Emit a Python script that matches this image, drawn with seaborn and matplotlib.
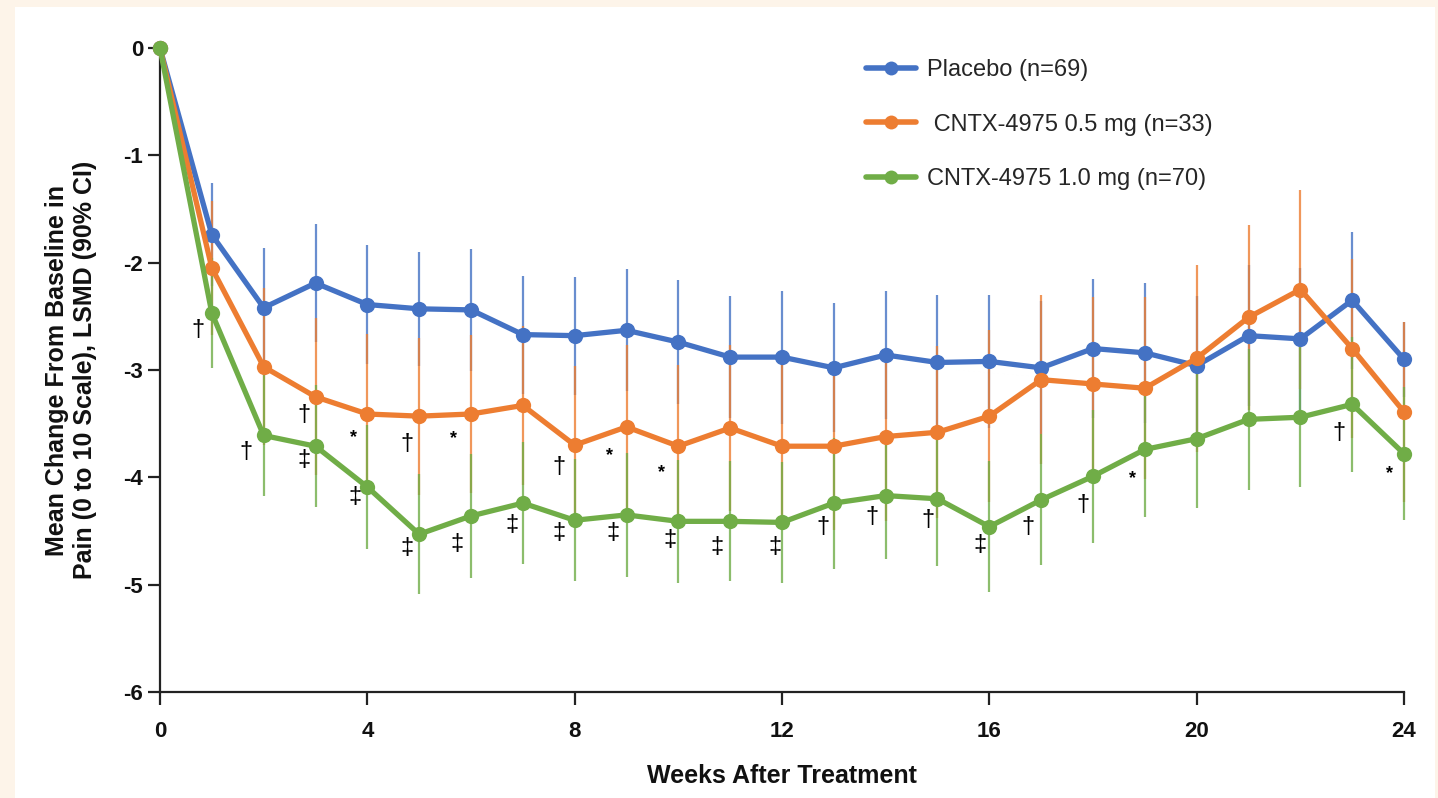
import numpy as np
import pandas as pd
import matplotlib
matplotlib.use("Agg")
import matplotlib.pyplot as plt
import matplotlib.transforms as mtransforms
from matplotlib.lines import Line2D
from matplotlib.patches import Rectangle
import seaborn as sns

# ---- data -------------------------------------------------------------
weeks = list(range(0, 25))

groups = ["Placebo (n=69)", " CNTX-4975 0.5 mg (n=33)", "CNTX-4975 1.0 mg (n=70)"]

placebo_mean = [0, -1.74, -2.42, -2.19, -2.39, -2.43, -2.44, -2.67, -2.68, -2.63,
                -2.74, -2.88, -2.88, -2.98, -2.86, -2.93, -2.92, -2.98, -2.80, -2.84,
                -2.96, -2.68, -2.71, -2.35, -2.90]
placebo_ci = [0, 0.48, 0.56, 0.55, 0.55, 0.53, 0.57, 0.55, 0.55, 0.57,
              0.58, 0.57, 0.62, 0.60, 0.60, 0.63, 0.62, 0.62, 0.65, 0.65,
              0.65, 0.66, 0.66, 0.64, 0.35]

low_mean = [0, -2.05, -2.97, -3.25, -3.41, -3.43, -3.41, -3.33, -3.70, -3.53,
            -3.71, -3.54, -3.71, -3.71, -3.62, -3.58, -3.43, -3.09, -3.13, -3.17,
            -2.89, -2.51, -2.25, -2.80, -3.39]
low_ci = [0, 0.62, 0.73, 0.73, 0.75, 0.73, 0.74, 0.74, 0.74, 0.76,
          0.76, 0.77, 0.78, 0.78, 0.79, 0.80, 0.80, 0.79, 0.81, 0.85,
          0.87, 0.86, 0.93, 0.83, 0.84]

high_mean = [0, -2.47, -3.61, -3.71, -4.09, -4.53, -4.36, -4.24, -4.40, -4.35,
             -4.41, -4.41, -4.42, -4.24, -4.17, -4.20, -4.46, -4.21, -3.99, -3.74,
             -3.64, -3.46, -3.44, -3.32, -3.78]
high_ci = [0, 0.51, 0.56, 0.57, 0.58, 0.56, 0.58, 0.57, 0.57, 0.58,
           0.57, 0.56, 0.56, 0.61, 0.59, 0.63, 0.61, 0.61, 0.62, 0.63,
           0.65, 0.66, 0.65, 0.63, 0.62]

# significance symbols versus placebo: (week, value, symbol)
sig_marks = [
    (0.73, -2.63, "†"), (1.66, -3.76, "†"), (2.77, -3.42, "†"), (2.77, -3.84, "‡"),
    (3.73, -3.58, "*"), (3.76, -4.18, "‡"), (4.76, -3.69, "†"), (4.76, -4.66, "‡"),
    (5.66, -3.59, "*"), (5.73, -4.62, "‡"), (6.79, -4.44, "‡"), (7.69, -3.90, "†"),
    (7.70, -4.52, "‡"), (8.68, -3.75, "*"), (8.73, -4.52, "‡"), (9.67, -3.90, "*"),
    (9.83, -4.58, "‡"), (10.75, -4.65, "‡"), (11.87, -4.65, "‡"), (12.80, -4.46, "†"),
    (13.73, -4.37, "†"), (14.82, -4.40, "†"), (15.82, -4.63, "‡"), (16.75, -4.46, "†"),
    (17.80, -4.26, "†"), (18.76, -3.96, "*"), (22.75, -3.59, "†"), (23.72, -3.91, "*"),
]

colors = ["#4472C4", "#ED7D31", "#70AD47"]

df = pd.DataFrame({
    "week": weeks * 3,
    "change": placebo_mean + low_mean + high_mean,
    "ci": placebo_ci + low_ci + high_ci,
    "group": np.repeat(groups, len(weeks)),
})

# ---- style ------------------------------------------------------------
sns.set_theme(style="ticks")
plt.rcParams["font.family"] = ["Liberation Sans", "DejaVu Sans"]

W, H = 1438, 798
fig = plt.figure(figsize=(W / 100, H / 100), dpi=100)
fig.patch.set_facecolor("#FDF4E9")
fig.add_artist(Rectangle((15 / W, 0), (1435 - 15) / W, (H - 7) / H,
                         transform=fig.transFigure, facecolor="white",
                         edgecolor="none", zorder=0))

ax = fig.add_axes([160 / W, 1 - 692 / H, (1404 - 160) / W, (692 - 48) / H])
ax.set_facecolor("none")

# confidence interval whiskers (below the lines)
for i, g in enumerate(groups):
    sub = df[(df["group"] == g) & (df["ci"] > 0)]
    ax.errorbar(sub["week"], sub["change"], yerr=sub["ci"], fmt="none",
                ecolor=colors[i], elinewidth=1.6, capsize=0, alpha=0.8,
                zorder=1.5 + i * 0.1, clip_on=False)

sns.lineplot(data=df, x="week", y="change", hue="group", hue_order=groups,
             palette=colors, marker="o", markersize=11, markeredgewidth=0,
             linewidth=3.8, errorbar=None, legend=False, ax=ax,
             clip_on=False, zorder=3)

star_shift = mtransforms.ScaledTranslation(0, -4 / 72, fig.dpi_scale_trans)
for x, y, s in sig_marks:
    if s == "*":
        ax.text(x, y, s, ha="center", va="center", fontsize=13,
                fontweight="bold", color="black", zorder=4,
                transform=ax.transData + star_shift)
    else:
        ax.text(x, y, s, ha="center", va="center", fontsize=17,
                color="black", zorder=4)

ax.set_xlim(0, 24)
ax.set_ylim(-6, 0)
ax.set_xticks(range(0, 25, 4))
ax.set_yticks(range(-6, 1))
ax.set_yticklabels([str(v) for v in range(-6, 1)])

sns.despine(ax=ax)
for sp in ("left", "bottom"):
    ax.spines[sp].set_linewidth(1.6)
    ax.spines[sp].set_color("#222222")
ax.tick_params(axis="both", direction="out", width=1.6, color="#222222",
               labelsize=16)
ax.tick_params(axis="y", length=9, pad=3)
ax.tick_params(axis="x", length=9, pad=12)
for lab in ax.get_xticklabels() + ax.get_yticklabels():
    lab.set_fontweight("bold")
    lab.set_color("#111111")

ax.set_xlabel("Weeks After Treatment", fontsize=18, fontweight="bold",
              color="#111111")
ax.xaxis.set_label_coords(0.5, -0.112)
ax.set_ylabel("Mean Change From Baseline in\nPain (0 to 10 Scale), LSMD (90% CI)",
              fontsize=18, fontweight="bold", color="#111111", linespacing=1.2)
ax.yaxis.set_label_coords(-0.051, 0.5)

handles = [Line2D([0], [0], color=c, lw=4, marker="o", markersize=10,
                  markeredgewidth=0) for c in colors]
ax.legend(handles, groups, loc="upper left",
          bbox_to_anchor=(866 / W, 1 - 59 / H), bbox_transform=fig.transFigure,
          frameon=False, fontsize=17, handlelength=2.1, handletextpad=0.5,
          labelspacing=1.38, borderpad=0, borderaxespad=0)

fig.savefig("out.png", dpi=100, facecolor=fig.get_facecolor())
